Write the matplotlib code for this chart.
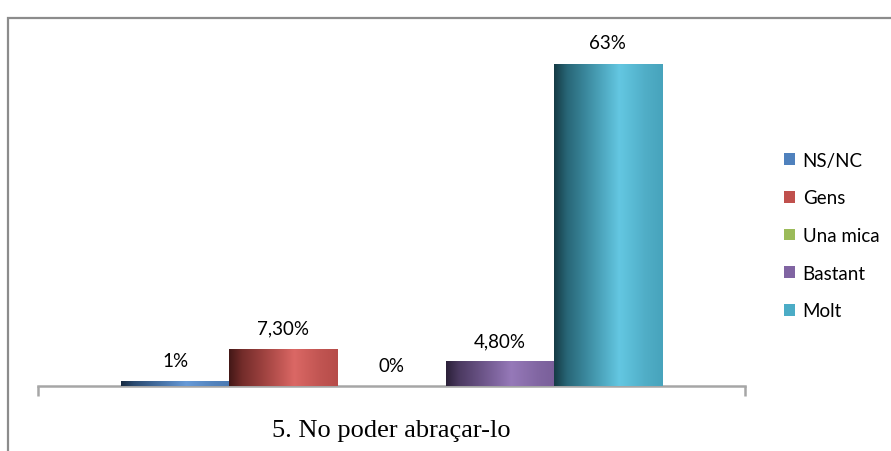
import matplotlib
matplotlib.use("Agg")
import matplotlib.pyplot as plt
import numpy as np
from matplotlib.colors import to_rgb, rgb_to_hsv, hsv_to_rgb
from matplotlib.patches import Rectangle

categories = ["NS/NC", "Gens", "Una mica", "Bastant", "Molt"]
values = [1.0, 7.3, 0.0, 4.8, 63.0]
value_labels = ["1%", "7,30%", "0%", "4,80%", "63%"]
colors = ["#4F81BD", "#C0504D", "#9BBB59", "#8064A2", "#4BACC6"]
group_label = "5. No poder abraçar-lo"

LABEL_FONT = ["Lato", "DejaVu Sans"]


def cylinder_strip(base, n=200):
    # horizontal shading: dark left edge, bright band right of centre
    t = np.linspace(0, 1, n)
    value_scale = np.interp(t, [0.0, 0.12, 0.6, 0.85, 1.0], [0.35, 0.6, 1.14, 1.0, 0.95])
    sat_scale = np.interp(t, [0.0, 0.6, 1.0], [1.1, 0.9, 1.0])
    hsv = rgb_to_hsv(np.array(to_rgb(base)))
    out = np.empty((1, n, 3))
    for i in range(n):
        h, s, v = hsv
        out[0, i] = hsv_to_rgb([h, min(1, s * sat_scale[i]), min(1, v * value_scale[i])])
    return out


fig = plt.figure(figsize=(8.91, 4.52), dpi=100)
fig.patch.set_facecolor("white")

# outer chart border (runs off the right/bottom edges)
fig.patches.append(Rectangle((8 / 891, -0.1), 1.2, (452 - 19) / 452 + 0.1,
                             transform=fig.transFigure, fill=False,
                             edgecolor="#8C8C8C", lw=1.6, zorder=0))

ax = fig.add_axes([38 / 891, (452 - 387) / 452, 707 / 891, 358 / 452])
ax.set_xlim(0, 1)
ax.set_ylim(0, 70)

width = 0.153
xs = 0.5 + (np.arange(len(values)) - 2) * width
bars = ax.bar(xs, values, width=width, color=colors, linewidth=0, zorder=2)

for patch, col in zip(bars.patches, colors):
    x0, y0 = patch.get_x(), patch.get_y()
    w, h = patch.get_width(), patch.get_height()
    if h <= 0:
        continue
    img = ax.imshow(cylinder_strip(col), extent=(x0, x0 + w, y0, y0 + h),
                    aspect="auto", interpolation="bilinear", zorder=3)
    img.set_clip_path(patch)

for x, v, lab in zip(xs, values, value_labels):
    ax.annotate(lab, (x, v), xytext=(0, 15), textcoords="offset points",
                ha="center", va="center", fontsize=13.5, family=LABEL_FONT,
                color="#000000")

for side in ("top", "right", "left"):
    ax.spines[side].set_visible(False)
ax.spines["bottom"].set_color("#A6A6A6")
ax.spines["bottom"].set_linewidth(1.8)
ax.set_yticks([])
ax.set_xticks([0, 1])
ax.set_xticklabels([])
ax.tick_params(axis="x", direction="out", length=7.5, width=1.8, color="#A6A6A6")
ax.set_xlabel(group_label, family="Liberation Serif", fontsize=19, labelpad=13)
ax.patch.set_alpha(0)

handles = [Rectangle((0, 0), 1, 1, facecolor=c, edgecolor="none") for c in colors]
fig.legend(handles, categories, loc="upper left", bbox_to_anchor=(767 / 891, 1 - 136 / 452),
           frameon=False, handlelength=0.6, handleheight=0.6, handletextpad=0.4,
           labelspacing=1.1, prop={"family": LABEL_FONT, "size": 13.5})

fig.savefig("out.png", dpi=100)
